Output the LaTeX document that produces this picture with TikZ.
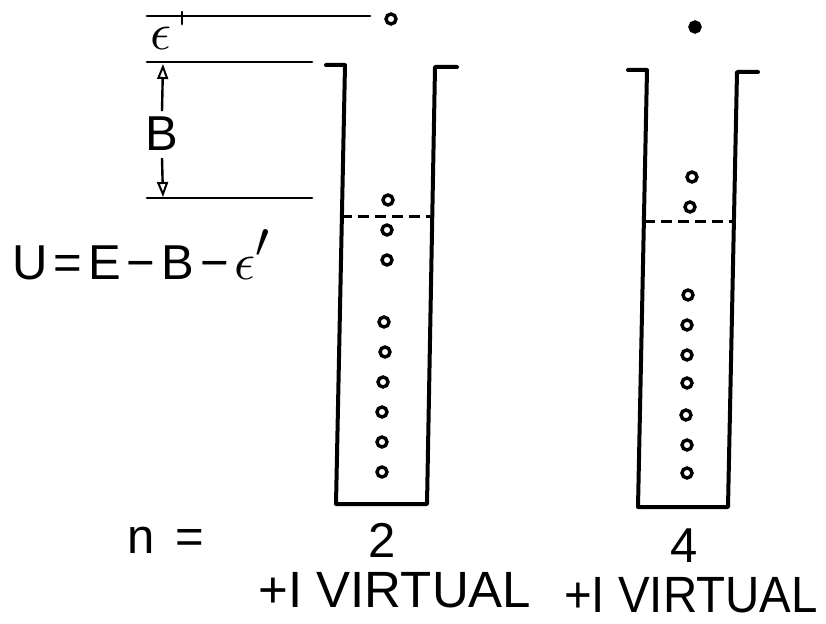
\documentclass[tikz,border=0pt]{standalone}
\usepackage{fontspec}
\setmainfont{Liberation Sans}
\usepackage{graphicx}
\usetikzlibrary{arrows.meta}
\newcommand{\bigeps}[1]{{\fontsize{10}{12}\selectfont\scalebox{#1}{$\epsilon$}}}
\begin{document}
\begin{tikzpicture}[x=1pt,y=-1pt,
  wall/.style={line width=4pt, line join=round, line cap=round},
  level/.style={line width=2.8pt, line cap=round},
  fermi/.style={line width=3pt, dash pattern=on 11pt off 6pt},
  part/.style={circle, draw, line width=3.4pt, minimum size=10pt, inner sep=0pt},
  fullpart/.style={part, fill=black},
  lab/.style={inner sep=0pt, font=\fontsize{49}{50}\selectfont},
  biglab/.style={inner sep=0pt, font=\fontsize{51}{52}\selectfont},
  dimarrow/.style={line width=2.4pt, -{Triangle[open, width=11pt, length=15pt, line width=2pt]}}
]
\useasboundingbox (0,0) rectangle (826,623);

% energy levels on the left
\draw[level] (147,16) -- (370,16);
\draw[level] (182,12) -- (182,24);
\draw[level] (147,62) -- (312,62);
\draw[level] (147,198) -- (312,198);
\node[inner sep=0pt] (eps) at (161,38) {\bigeps{5.2}};

% binding energy arrow
\node[lab, anchor=base] (B) at (162,150) {B};
\coordinate (btop) at (163,64);
\coordinate (bbot) at (163,197);
\draw[dimarrow] ([yshift=5pt]B.north) -- (btop);
\draw[dimarrow] ([yshift=-8pt]B.south) -- (bbot);

% formula
\node[lab, anchor=base west] (U) at (12,279) {U\hspace{6pt}=\hspace{6pt}E\hspace{6pt}−\hspace{6pt}B\hspace{6pt}−\hspace{6pt}\bigeps{5.2}\raisebox{22pt}{\fontsize{10}{12}\selectfont\scalebox{5}{$\prime$}}};

% well 1
\draw[wall] (326,65) -- (345,65) -- (336,504) -- (427,504) -- (435,67) -- (457,67);
\draw[fermi] (341,216) -- (432,216);
\node[part] (a0) at (391,19) {};
\node[part] (a1) at (388,200) {};
\node[part] (a2) at (387,230) {};
\node[part] (a3) at (387,260) {};
\node[part] (a4) at (384,322) {};
\node[part] (a5) at (385,352) {};
\node[part] (a6) at (383,382) {};
\node[part] (a7) at (382,412) {};
\node[part] (a8) at (382,442) {};
\node[part] (a9) at (382,472) {};

% well 2
\draw[wall] (628,70) -- (647,70) -- (638,507) -- (728,507) -- (737,72) -- (758,72);
\draw[fermi] (644,221) -- (734,221);
\node[fullpart] (b0) at (695,27) {};
\node[part] (b1) at (692,177) {};
\node[part] (b2) at (690,207) {};
\node[part] (b3) at (688,295) {};
\node[part] (b4) at (687,325) {};
\node[part] (b5) at (687,355) {};
\node[part] (b6) at (687,383) {};
\node[part] (b7) at (686,415) {};
\node[part] (b8) at (687,445) {};
\node[part] (b9) at (687,473) {};

% bottom labels
\node[lab, anchor=base west] (n) at (127,553) {n\hspace{21pt}=};
\node[lab, anchor=base] (n1) at (382,557) {2};
\node[lab, anchor=base] (n2) at (684,562) {4};
\node[biglab, anchor=base] (v1) at (395,607) {+I VIRTUAL};
\node[biglab, anchor=base] (v2) at (691,612) {\scalebox{0.93}[1]{+I VIRTUAL}};
\end{tikzpicture}
\end{document}
